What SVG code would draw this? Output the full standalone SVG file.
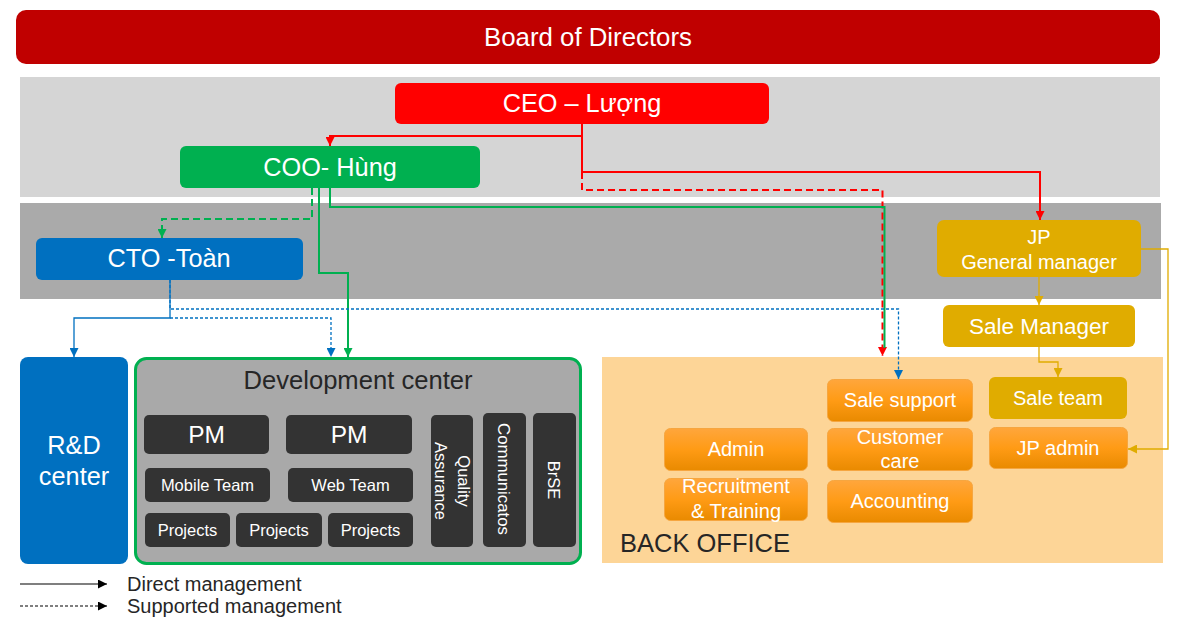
<svg xmlns="http://www.w3.org/2000/svg" width="1179" height="620" viewBox="0 0 1179 620">
<style>
text{font-family:"Liberation Sans",Arial,sans-serif}
.w{fill:#fff;text-anchor:middle}
.d{fill:#262626}
.big{font-size:25.3px}
.pm{font-size:24.5px}
.med{font-size:20px}
.sm{font-size:16.5px}
.dk{fill:#333333}
.or{fill:url(#og);stroke:#F6A640;stroke-width:1}
.gold{fill:#E0AC00}
.c{fill:none}
.red{stroke:#FF0000;stroke-width:2}
.grn{stroke:#00B050;stroke-width:2}
.blu{stroke:#0070C0;stroke-width:1.3}
.gld{stroke:#E0AC00;stroke-width:1.3}
.blk{stroke:#000;stroke-width:1.2}
.dash{stroke-dasharray:7,4}
.dot{stroke-dasharray:3,2}
</style>
<defs>
<linearGradient id="og" x1="0" y1="0" x2="0" y2="1">
<stop offset="0" stop-color="#FFA63C"/>
<stop offset="0.5" stop-color="#FF9B15"/>
<stop offset="1" stop-color="#E98A00"/>
</linearGradient>
<marker id="aR" viewBox="0 0 10 10" refX="10" refY="5" markerWidth="9" markerHeight="9" markerUnits="userSpaceOnUse" orient="auto"><path d="M0,0 L10,5 L0,10 z" fill="#FF0000"/></marker>
<marker id="aG" viewBox="0 0 10 10" refX="10" refY="5" markerWidth="9" markerHeight="9" markerUnits="userSpaceOnUse" orient="auto"><path d="M0,0 L10,5 L0,10 z" fill="#00B050"/></marker>
<marker id="aB" viewBox="0 0 10 10" refX="10" refY="5" markerWidth="9" markerHeight="9" markerUnits="userSpaceOnUse" orient="auto"><path d="M0,0 L10,5 L0,10 z" fill="#0070C0"/></marker>
<marker id="aY" viewBox="0 0 10 10" refX="10" refY="5" markerWidth="9" markerHeight="9" markerUnits="userSpaceOnUse" orient="auto"><path d="M0,0 L10,5 L0,10 z" fill="#E0AC00"/></marker>
<marker id="aK" viewBox="0 0 10 10" refX="10" refY="5" markerWidth="9" markerHeight="9" markerUnits="userSpaceOnUse" orient="auto"><path d="M0,0 L10,5 L0,10 z" fill="#000"/></marker>
</defs>

<g id="bands">
<rect x="20" y="77" width="1140" height="120" fill="#D5D5D5"/>
<rect x="20" y="203" width="1141" height="96" fill="#AAAAAA"/>
</g>

<g id="board">
<rect x="16" y="10" width="1144" height="54" rx="10" fill="#C00000"/>
<text class="w" style="font-size:25.8px" x="588" y="46">Board of Directors</text>
</g>

<g id="ceo">
<rect x="395" y="83" width="374" height="41" rx="6" fill="#FF0000"/>
<text class="w big" x="582" y="112">CEO – Lượng</text>
</g>

<g id="coo">
<rect x="180" y="146" width="300" height="42" rx="6" fill="#00B050"/>
<text class="w big" x="330" y="176">COO- Hùng</text>
</g>

<g id="cto">
<rect x="36" y="238" width="267" height="42" rx="6" fill="#0070C0"/>
<text class="w big" x="169" y="267">CTO -Toàn</text>
</g>

<g id="jp-gm">
<rect x="937" y="220" width="204" height="57" rx="7" class="gold"/>
<text class="w med" x="1039" y="244">JP</text>
<text class="w med" x="1039" y="269">General manager</text>
</g>

<g id="sale-manager">
<rect x="943" y="305" width="192" height="42" rx="6" class="gold"/>
<text class="w" style="font-size:22.5px" x="1039" y="334">Sale Manager</text>
</g>

<g id="rd-center">
<rect x="20" y="357" width="108" height="207" rx="8" fill="#0070C0"/>
<text class="w big" x="74" y="454">R&amp;D</text>
<text class="w big" x="74" y="485">center</text>
</g>

<g id="dev-center">
<rect x="135.5" y="358.5" width="445" height="205" rx="11" fill="#A9A9A9" stroke="#00B050" stroke-width="3"/>
<text class="d" style="font-size:25.6px" x="358" y="389" text-anchor="middle">Development center</text>
</g>
<g id="pm1"><rect x="144" y="415" width="125" height="39" rx="5" class="dk"/><text class="w pm" x="206.5" y="443">PM</text></g>
<g id="pm2"><rect x="286" y="415" width="126" height="39" rx="5" class="dk"/><text class="w pm" x="349" y="443">PM</text></g>
<g id="mobile-team"><rect x="145" y="468" width="125" height="34" rx="5" class="dk"/><text class="w sm" x="207.5" y="491">Mobile Team</text></g>
<g id="web-team"><rect x="288" y="468" width="125" height="34" rx="5" class="dk"/><text class="w sm" x="350.5" y="491">Web Team</text></g>
<g id="projects1"><rect x="145" y="513" width="85" height="34" rx="5" class="dk"/><text class="w sm" x="187.5" y="536">Projects</text></g>
<g id="projects2"><rect x="236" y="513" width="86" height="34" rx="5" class="dk"/><text class="w sm" x="279" y="536">Projects</text></g>
<g id="projects3"><rect x="328" y="513" width="85" height="34" rx="5" class="dk"/><text class="w sm" x="370.5" y="536">Projects</text></g>
<g id="qa"><rect x="431" y="415" width="42" height="132" rx="5" class="dk"/>
<g transform="translate(452,481) rotate(90)"><text class="w sm" x="0" y="-6">Quality</text><text class="w sm" x="0" y="17">Assurance</text></g></g>
<g id="communicatos"><rect x="483" y="413" width="43" height="134" rx="5" class="dk"/>
<g transform="translate(504.5,479) rotate(90)"><text class="w" style="font-size:16.8px" x="0" y="7">Communicatos</text></g></g>
<g id="brse"><rect x="533" y="413" width="43" height="134" rx="5" class="dk"/>
<g transform="translate(554.5,480) rotate(90)"><text class="w sm" x="0" y="7">BrSE</text></g></g>

<g id="back-office">
<rect x="602" y="357" width="561" height="206" fill="#FDD597"/>
<text class="d" style="font-size:25.5px" x="620" y="552">BACK OFFICE</text>
</g>
<g id="sale-support"><rect x="827.5" y="379.5" width="145" height="42" rx="6" class="or"/><text class="w med" x="900" y="407">Sale support</text></g>
<g id="customer-care"><rect x="827.5" y="428.5" width="145" height="42" rx="6" class="or"/><text class="w med" x="900" y="444">Customer</text><text class="w med" x="900" y="468">care</text></g>
<g id="accounting"><rect x="827.5" y="480.5" width="145" height="42" rx="6" class="or"/><text class="w med" x="900" y="508">Accounting</text></g>
<g id="admin"><rect x="664.5" y="428.5" width="143" height="42" rx="6" class="or"/><text class="w med" x="736" y="456">Admin</text></g>
<g id="recruitment"><rect x="664.5" y="478.5" width="143" height="42" rx="6" class="or"/><text class="w med" x="736" y="493">Recruitment</text><text class="w med" x="736" y="518">&amp; Training</text></g>
<g id="sale-team"><rect x="989" y="377" width="138" height="42" rx="6" class="gold"/><text class="w med" x="1058" y="405">Sale team</text></g>
<g id="jp-admin"><rect x="989.5" y="427.5" width="138" height="41" rx="6" class="or"/><text class="w med" x="1058" y="455">JP admin</text></g>

<g id="connectors">
<path class="c red dash" d="M582,172 V190 H882.5 V356" marker-end="url(#aR)"/>
<path class="c grn" d="M330,188 V207 H884.5 V348"/>
<path class="c red" d="M582,124 V136 H330 V146" marker-end="url(#aR)"/>
<path class="c red" d="M582,124 V172 H1040 V220" marker-end="url(#aR)"/>
<path class="c grn" d="M319,188 V273 H348 V357" marker-end="url(#aG)"/>
<path class="c grn dash" d="M312,188 V219 H162 V238" marker-end="url(#aG)"/>
<path class="c blu" d="M170,280 V318 H74 V357" marker-end="url(#aB)"/>
<path class="c blu dot" d="M170,280 V309 H898.5 V379" marker-end="url(#aB)"/>
<path class="c blu dot" d="M170,318 H331 V357" marker-end="url(#aB)"/>
<path class="c gld" d="M1039,277 V305" marker-end="url(#aY)"/>
<path class="c gld" d="M1039,347 V362 H1058 V377" marker-end="url(#aY)"/>
<path class="c gld" d="M1141,249 H1168 V449 H1128" marker-end="url(#aY)"/>
</g>

<g id="legend">
<path class="c blk" d="M20,584 H107" marker-end="url(#aK)"/>
<path class="c blk dot" d="M20,606 H107" marker-end="url(#aK)"/>
<text class="d" style="font-size:20px" x="127" y="591">Direct management</text>
<text class="d" style="font-size:20px" x="127" y="613">Supported management</text>
</g>
</svg>
